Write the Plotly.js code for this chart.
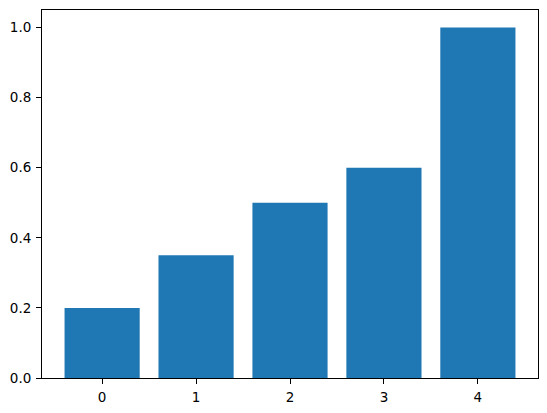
<!DOCTYPE html>
<html>
<head>
<meta charset="utf-8">
<script src="https://cdn.plot.ly/plotly-3.0.1.min.js"></script>
<style>html,body{margin:0;padding:0;background:#fff;}#chart{width:547px;height:413px;}</style>
</head>
<body>
<div id="chart"></div>
<script>
const categories = [0, 1, 2, 3, 4];
const values = [0.2, 0.35, 0.5, 0.6, 1.0];
const yTickVals = [0, 0.2, 0.4, 0.6, 0.8, 1.0];
const yTickText = ["0.0", "0.2", "0.4", "0.6", "0.8", "1.0"];

const trace = {
  type: 'bar',
  x: categories,
  y: values,
  width: 0.8,
  marker: {color: '#1f77b4', line: {width: 0}},
  hoverinfo: 'none'
};

const font = {family: 'DejaVu Sans', size: 13.5, color: '#000'};

const layout = {
  width: 547, height: 413,
  margin: {l: 42, r: 9, t: 10, b: 35},
  paper_bgcolor: '#fff', plot_bgcolor: '#fff',
  showlegend: false,
  font: font,
  xaxis: {
    range: [-0.64, 4.64],
    tickvals: categories,
    ticktext: categories.map(String),
    showgrid: false, zeroline: false,
    showline: true, linecolor: '#000', linewidth: 1, mirror: true,
    ticks: 'outside', ticklen: 5, tickwidth: 1, tickcolor: '#000',
    ticklabelstandoff: 2,
    tickfont: font
  },
  yaxis: {
    range: [0, 1.05],
    tickvals: yTickVals,
    ticktext: yTickText,
    showgrid: false, zeroline: false,
    showline: true, linecolor: '#000', linewidth: 1, mirror: true,
    ticks: 'outside', ticklen: 5, tickwidth: 1, tickcolor: '#000',
    ticklabelstandoff: 2,
    tickfont: font
  }
};

Plotly.newPlot('chart', [trace], layout, {staticPlot: true, displayModeBar: false});
</script>
</body>
</html>
